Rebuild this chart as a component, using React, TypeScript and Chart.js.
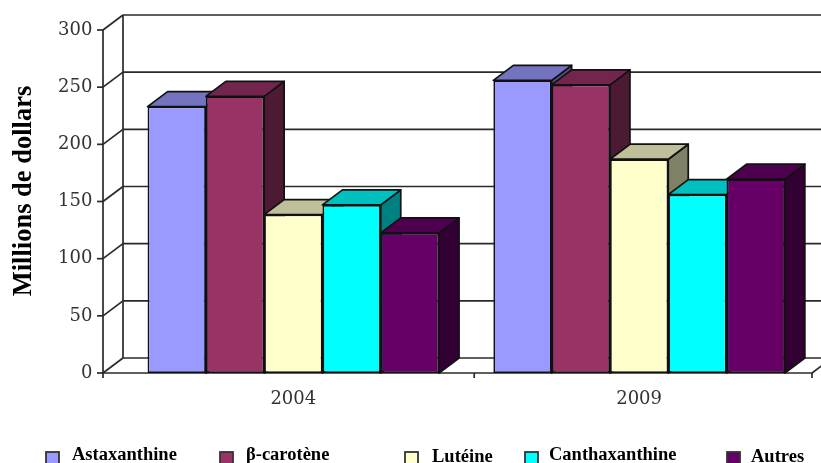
import React, { useEffect, useRef } from "react";
import { Chart, registerables } from "chart.js";

Chart.register(...registerables);

const categories = ["2004", "2009"];
const seriesNames = ["Astaxanthine", "β-carotène", "Lutéine", "Canthaxanthine", "Autres"];
const astaxanthine = [233, 256];
const betaCarotene = [242, 252];
const luteine = [138.5, 187];
const canthaxanthine = [147, 156];
const autres = [122.5, 169.5];
const seriesValues = [astaxanthine, betaCarotene, luteine, canthaxanthine, autres];
const yTicks = [0, 50, 100, 150, 200, 250, 300];
const axisTitle = "Millions de dollars";

const frontColors = ["#9999FF", "#993366", "#FFFFCC", "#00FFFF", "#660066"];
const topColors = ["#7373BF", "#73264D", "#BFBF99", "#00BFBF", "#4D004D"];
const sideColors = ["#4D4D80", "#4D1A33", "#808066", "#008080", "#330033"];

const legendSwatchX = [46, 220, 405, 525, 727];
const legendTextX = [72, 246, 432, 549, 751];
const legendBaseline = [460, 460, 462, 460, 462];

const DX = 20;
const DY = 15;
const AXIS_X = 103;
const LINE = "#2a2a2a";

function seg(ctx: CanvasRenderingContext2D, x1: number, y1: number, x2: number, y2: number) {
  ctx.beginPath();
  ctx.moveTo(x1, y1);
  ctx.lineTo(x2, y2);
  ctx.stroke();
}

function poly(ctx: CanvasRenderingContext2D, pts: number[][], fill: string) {
  ctx.beginPath();
  pts.forEach((p, i) => (i ? ctx.lineTo(p[0], p[1]) : ctx.moveTo(p[0], p[1])));
  ctx.closePath();
  ctx.fillStyle = fill;
  ctx.fill();
  ctx.stroke();
}

const depthPlugin = {
  id: "depth",
  beforeDatasetsDraw(chart: any) {
    const { ctx, chartArea, scales } = chart;
    const y = scales.y;
    const x = scales.x;
    const right = chartArea.right;
    const base = y.getPixelForValue(0);
    const top = y.getPixelForValue(300);
    ctx.save();
    ctx.strokeStyle = LINE;
    ctx.lineWidth = 1.7;
    // back wall, gridlines and left side wall
    seg(ctx, AXIS_X + DX, top - DY, AXIS_X + DX, base - DY);
    yTicks.forEach((v) => {
      const py = y.getPixelForValue(v);
      seg(ctx, AXIS_X + DX, py - DY, right + DX, py - DY);
      seg(ctx, AXIS_X, py, AXIS_X + DX, py - DY);
      seg(ctx, AXIS_X - 6, py, AXIS_X, py);
    });
    // front axes
    seg(ctx, AXIS_X, top, AXIS_X, base + 5);
    seg(ctx, AXIS_X, base, right, base);
    seg(ctx, right, base, right + DX, base - DY);
    const mid = (x.getPixelForValue(0) + x.getPixelForValue(1)) / 2 + 8;
    seg(ctx, mid, base, mid, base + 5);
    seg(ctx, right, base, right, base + 5);
    ctx.restore();

    // bars, left to right so each one covers the depth faces of its left neighbour
    chart.getSortedVisibleDatasetMetas().forEach((meta: any) => {
      const i = meta.index;
      ctx.save();
      ctx.strokeStyle = "#111";
      ctx.lineWidth = 1.7;
      ctx.lineJoin = "round";
      meta.data.forEach((bar: any) => {
        const { x: bx, y: by, base: bb, width } = bar.getProps(["x", "y", "base", "width"], true);
        const l = bx - width / 2;
        const r = bx + width / 2;
        poly(ctx, [[r, by], [r + DX, by - DY], [r + DX, bb - DY], [r, bb]], sideColors[i]);
        poly(ctx, [[l, by], [l + DX, by - DY], [r + DX, by - DY], [r, by]], topColors[i]);
      });
      ctx.restore();
      meta.controller.draw();
    });
    return false;
  },
  afterDraw(chart: any) {
    const { ctx } = chart;
    ctx.save();
    // axis title
    ctx.translate(24, 191);
    ctx.rotate(-Math.PI / 2);
    ctx.font = 'bold 26.5px "Liberation Serif"';
    ctx.fillStyle = "#000";
    ctx.textAlign = "center";
    ctx.textBaseline = "middle";
    ctx.fillText(axisTitle, 0, 0);
    ctx.restore();
    // legend
    ctx.save();
    ctx.font = 'bold 18.5px "Liberation Serif"';
    ctx.textBaseline = "alphabetic";
    ctx.textAlign = "left";
    ctx.lineWidth = 1.8;
    ctx.strokeStyle = "#333";
    seriesNames.forEach((name, i) => {
      ctx.fillStyle = frontColors[i];
      ctx.fillRect(legendSwatchX[i], 452, 13, 13);
      ctx.strokeRect(legendSwatchX[i], 452, 13, 13);
      ctx.fillStyle = "#000";
      ctx.fillText(name, legendTextX[i], legendBaseline[i]);
    });
    ctx.restore();
  },
};

export default function App() {
  const ref = useRef<HTMLCanvasElement>(null);
  useEffect(() => {
    const tickFont = { family: '"DejaVu Serif"', size: 18 };
    const chart = new Chart(ref.current!, {
      type: "bar",
      data: {
        labels: categories,
        datasets: seriesNames.map((label, i) => ({
          label,
          data: seriesValues[i],
          backgroundColor: frontColors[i],
          borderColor: "#111",
          borderWidth: 1.7,
          borderSkipped: false,
          barPercentage: 1,
          categoryPercentage: 0.843,
          clip: false,
        })),
      } as any,
      options: {
        responsive: false,
        animation: false,
        events: [],
        layout: { padding: { top: 30, right: 9, left: 0, bottom: 30 } },
        plugins: { legend: { display: false }, tooltip: { enabled: false } },
        scales: {
          x: {
            grid: { display: false, drawTicks: false },
            border: { display: false },
            ticks: { font: tickFont, color: "#333", padding: 16, maxRotation: 0 },
            afterFit(s: any) {
              s.height = 60;
              s.paddingLeft = 0;
              s.paddingRight = 0;
            },
          },
          y: {
            min: 0,
            max: 300,
            grid: { display: false, drawTicks: false },
            border: { display: false },
            ticks: { font: tickFont, color: "#333", padding: 28, stepSize: 50 },
            afterFit(s: any) {
              s.width = 120.4;
              s.paddingTop = 0;
              s.paddingBottom = 0;
            },
          },
        },
      },
      plugins: [depthPlugin],
    } as any);
    return () => chart.destroy();
  }, []);
  return (
    <div style={{ position: "absolute", left: 0, top: 0, width: 821, height: 463, overflow: "hidden", background: "#fff" }}>
      <canvas ref={ref} width={821} height={463} style={{ display: "block" }} />
    </div>
  );
}
